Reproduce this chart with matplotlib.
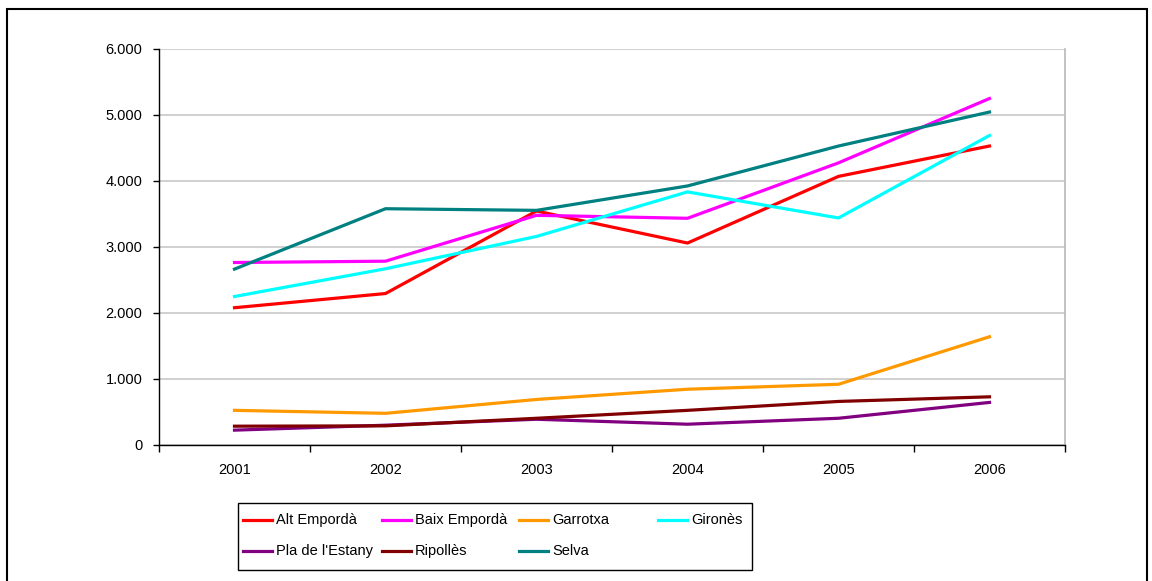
import matplotlib
matplotlib.use('Agg')
from matplotlib import pyplot as plt
from matplotlib.patches import Rectangle
from matplotlib.lines import Line2D
from matplotlib.ticker import FuncFormatter

# Data
years = ['2001', '2002', '2003', '2004', '2005', '2006']

alt_emporda = [2080, 2295, 3545, 3060, 4070, 4530]
baix_emporda = [2765, 2785, 3480, 3435, 4275, 5250]
garrotxa = [525, 480, 690, 845, 920, 1640]
girones = [2250, 2670, 3160, 3835, 3440, 4690]
pla_estany = [225, 300, 390, 315, 405, 645]
ripolles = [285, 290, 405, 525, 660, 730]
selva = [2665, 3580, 3555, 3925, 4530, 5045]

series_names = ['Alt Empordà', 'Baix Empordà', 'Garrotxa', 'Gironès',
                "Pla de l'Estany", 'Ripollès', 'Selva']
series_values = [alt_emporda, baix_emporda, garrotxa, girones,
                 pla_estany, ripolles, selva]
series_colors = ['#FF0000', '#FF00FF', '#FF9900', '#00FFFF',
                 '#800080', '#800000', '#008080']

W, H = 1152, 581


def thousands(v, pos):
    return '{:,.0f}'.format(v).replace(',', '.')


def px(x, y):
    # pixel (from top-left) -> figure fraction
    return x / W, (H - y) / H


def draw_legend(fig):
    # Excel-style legend: 4 equal-width columns, row-major order
    x0, y0 = px(238, 503)
    x1, y1 = px(752, 570)
    fig.patches.append(Rectangle((x0, y1), x1 - x0, y0 - y1,
                                 transform=fig.transFigure, fill=False,
                                 edgecolor='black', linewidth=1))
    col_x = [243, 382, 519, 658]
    row_y = [520, 551]
    for i, (name, color) in enumerate(zip(series_names, series_colors)):
        row, col = divmod(i, 4)
        hx0, hy = px(col_x[col], row_y[row])
        hx1, _ = px(col_x[col] + 29, row_y[row])
        fig.add_artist(Line2D([hx0, hx1], [hy, hy], color=color, linewidth=2.3,
                              transform=fig.transFigure))
        tx, _ = px(col_x[col] + 33, row_y[row])
        fig.text(tx, hy, name, fontsize=10.5, va='center', ha='left')


def main():
    plt.rcParams['font.family'] = ['Liberation Sans', 'DejaVu Sans']

    fig = plt.figure(figsize=(11.52, 5.81), dpi=100)

    # Outer chart frame
    fig.patches.append(Rectangle((7 / W, -0.05), 1140 / W, (H - 9) / H + 0.05,
                                 transform=fig.transFigure, fill=False,
                                 edgecolor='black', linewidth=1.5))

    # Plot area: x 159..1065, y 49..445 (pixels from top)
    ax = fig.add_axes([159 / W, (H - 445) / H, (1065 - 159) / W, (445 - 49) / H])

    x = list(range(len(years)))
    for name, vals, color in zip(series_names, series_values, series_colors):
        ax.plot(x, vals, color=color, linewidth=2.3, label=name)

    ax.set_xlim(-0.5, len(years) - 0.5)
    ax.set_ylim(0, 6000)

    # y axis
    ax.set_yticks(range(0, 6001, 1000))
    ax.yaxis.set_major_formatter(FuncFormatter(thousands))
    ax.yaxis.grid(True, color='#c8c8c8', linewidth=1.2)
    ax.set_axisbelow(True)

    # x axis: ticks between categories, labels at category centres
    ax.set_xticks([i - 0.5 for i in range(len(years) + 1)])
    ax.set_xticklabels([])
    ax.set_xticks(x, minor=True)
    ax.set_xticklabels(years, minor=True)
    ax.tick_params(axis='x', which='minor', length=0, pad=13, labelsize=10.5)
    ax.tick_params(axis='x', which='major', length=5, width=1, direction='out')
    ax.tick_params(axis='y', length=4, width=1, direction='out', pad=8, labelsize=10.5)

    for side in ['left', 'bottom']:
        ax.spines[side].set_color('black')
        ax.spines[side].set_linewidth(1)
    ax.spines['right'].set_color('#b8b8b8')
    ax.spines['right'].set_linewidth(1.2)
    ax.spines['top'].set_visible(False)

    draw_legend(fig)

    fig.savefig('out.png', dpi=100)


if __name__ == '__main__':
    main()
